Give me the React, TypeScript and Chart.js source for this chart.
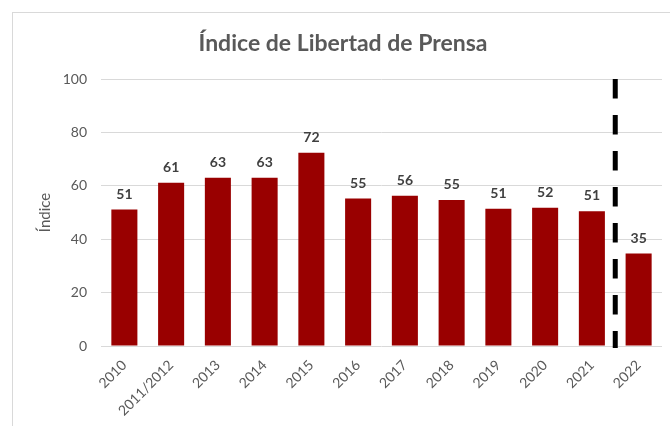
import React, { useEffect, useRef } from 'react';
import { Chart, registerables } from 'chart.js';

Chart.register(...registerables);

const categories = ['2010', '2011/2012', '2013', '2014', '2015', '2016', '2017', '2018', '2019', '2020', '2021', '2022'];
const values = [51.1, 61.1, 63.0, 63.0, 72.4, 55.2, 56.3, 54.7, 51.4, 51.8, 50.5, 34.6];
const dataLabels = ['51', '61', '63', '63', '72', '55', '56', '55', '51', '52', '51', '35'];
const yTicks = [0, 20, 40, 60, 80, 100];
const dividerAfter = '2021';
const titleText = 'Índice de Libertad de Prensa';
const yTitleText = 'Índice';

const FONT = 'Lato, "Open Sans", sans-serif';

const barLabelsPlugin = {
  id: 'barLabels',
  afterDatasetsDraw(chart: any) {
    const { ctx } = chart;
    const meta = chart.getDatasetMeta(0);
    ctx.save();
    ctx.font = `bold 14px ${FONT}`;
    ctx.fillStyle = '#404040';
    ctx.textAlign = 'center';
    ctx.textBaseline = 'alphabetic';
    meta.data.forEach((bar: any, i: number) => {
      ctx.fillText(dataLabels[i], bar.x, bar.y - 11);
    });
    ctx.restore();
  },
};

const dividerPlugin = {
  id: 'divider',
  afterDatasetsDraw(chart: any) {
    const { ctx, chartArea } = chart;
    const xs = chart.scales.x;
    const i = categories.indexOf(dividerAfter);
    const px = (xs.getPixelForValue(i) + xs.getPixelForValue(i + 1)) / 2;
    ctx.save();
    ctx.strokeStyle = '#000000';
    ctx.lineWidth = 5;
    ctx.setLineDash([19.5, 16.5]);
    ctx.beginPath();
    ctx.moveTo(px, chartArea.top);
    ctx.lineTo(px, chartArea.bottom + 2);
    ctx.stroke();
    ctx.restore();
  },
};

export default function App() {
  const ref = useRef<HTMLCanvasElement>(null);

  useEffect(() => {
    if (!ref.current) return;
    const chart = new Chart(ref.current, {
      type: 'bar',
      data: {
        labels: categories,
        datasets: [
          {
            data: values,
            backgroundColor: '#990000',
            borderWidth: 0,
            barPercentage: 0.557,
            categoryPercentage: 1,
          },
        ],
      },
      options: {
        responsive: false,
        animation: false,
        layout: { padding: { left: 24, right: 8, top: 0, bottom: 0 } },
        plugins: {
          legend: { display: false },
          tooltip: { enabled: false },
          title: {
            display: true,
            text: titleText,
            color: '#595959',
            font: { family: FONT, size: 23, weight: 'bold' },
            padding: { top: 29.7, bottom: 21.7 },
          },
        },
        scales: {
          x: {
            grid: { display: false },
            border: { display: false },
            ticks: {
              color: '#595959',
              font: { family: FONT, size: 14 },
              minRotation: 45,
              maxRotation: 45,
              padding: 3,
              autoSkip: false,
            },
            afterFit(scale: any) {
              scale.height = 80;
            },
          },
          y: {
            min: 0,
            max: 100,
            afterBuildTicks(scale: any) {
              scale.ticks = yTicks.map((v) => ({ value: v }));
            },
            grid: { color: '#d9d9d9', lineWidth: 1, drawTicks: false },
            border: { display: false },
            ticks: {
              color: '#595959',
              font: { family: FONT, size: 14 },
              padding: 14,
            },
            title: {
              display: true,
              text: yTitleText,
              color: '#595959',
              font: { family: FONT, size: 15 },
              padding: { top: 12, bottom: 0 },
            },
            afterFit(scale: any) {
              scale.width = 77;
            },
          },
        },
      },
      plugins: [barLabelsPlugin, dividerPlugin],
    } as any);
    return () => chart.destroy();
  }, []);

  return (
    <div style={{ position: 'absolute', left: 0, top: 0, width: 670, height: 426, background: '#ffffff', overflow: 'hidden' }}>
      <div
        style={{
          position: 'absolute',
          left: 12,
          top: 12,
          width: 700,
          height: 450,
          borderLeft: '1px solid #d9d9d9',
          borderTop: '1px solid #d9d9d9',
        }}
      />
      <canvas ref={ref} width={670} height={426} style={{ position: 'absolute', left: 0, top: 0 }} />
    </div>
  );
}
